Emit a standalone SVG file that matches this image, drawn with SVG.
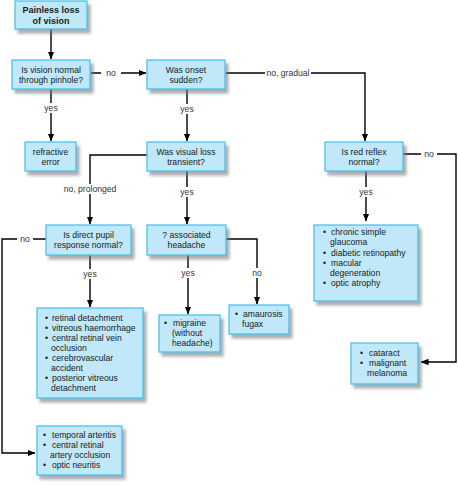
<svg xmlns="http://www.w3.org/2000/svg" width="458" height="485" viewBox="0 0 458 485">
<style>
.box{fill:#c0e8f8;stroke:#3fbfea;stroke-width:1.2}
.t{font-family:"Liberation Sans",Arial,sans-serif;font-size:8.6px;fill:#1a1a1a}
.c{text-anchor:middle}
.b{font-weight:bold;font-size:9px}
.ln{fill:none;stroke:#000;stroke-width:1.4}
.lb{font-family:"Liberation Sans",Arial,sans-serif;font-size:8.6px;fill:#333;text-anchor:middle}
.bg{fill:#fff}
</style>
<defs>
<filter id="sh" x="-20%" y="-20%" width="150%" height="160%">
<feDropShadow dx="3" dy="4" stdDeviation="1.8" flood-color="#777" flood-opacity="0.6"/>
</filter>
<marker id="ah" markerWidth="8" markerHeight="8" refX="7.5" refY="4" orient="auto" markerUnits="userSpaceOnUse">
<path d="M0,0.8 L8,4 L0,7.2 Z" fill="#000"/>
</marker>
</defs>
<rect width="458" height="485" fill="#fff"/>

<g id="connectors">
<path class="ln" d="M51,29 V59" marker-end="url(#ah)"/>
<path class="ln" d="M91,73 H146" marker-end="url(#ah)"/>
<path class="ln" d="M51,89 V141" marker-end="url(#ah)"/>
<path class="ln" d="M187,89 V141" marker-end="url(#ah)"/>
<path class="ln" d="M226,73 H365 V141" marker-end="url(#ah)"/>
<path class="ln" d="M366,171 V221" marker-end="url(#ah)"/>
<path class="ln" d="M403,154 H456 V362 H421" marker-end="url(#ah)"/>
<path class="ln" d="M147,155 H90 V224" marker-end="url(#ah)"/>
<path class="ln" d="M187,171 V224" marker-end="url(#ah)"/>
<path class="ln" d="M46,239 H2 V453 H35" marker-end="url(#ah)"/>
<path class="ln" d="M90,255 V307" marker-end="url(#ah)"/>
<path class="ln" d="M188,255 V314" marker-end="url(#ah)"/>
<path class="ln" d="M226,239 H257 V304" marker-end="url(#ah)"/>

<rect class="bg" x="101" y="68" width="20" height="10"/>
<text class="lb" x="111" y="76">no</text>
<rect class="bg" x="43" y="103" width="16" height="10"/>
<text class="lb" x="51" y="111">yes</text>
<rect class="bg" x="179" y="104" width="16" height="10"/>
<text class="lb" x="187" y="112">yes</text>
<rect class="bg" x="265" y="68" width="46" height="10"/>
<text class="lb" x="288" y="76">no, gradual</text>
<rect class="bg" x="358" y="187" width="16" height="10"/>
<text class="lb" x="366" y="195">yes</text>
<rect class="bg" x="421" y="149" width="16" height="10"/>
<text class="lb" x="429" y="157">no</text>
<rect class="bg" x="64" y="184" width="52" height="10"/>
<text class="lb" x="90" y="192">no, prolonged</text>
<rect class="bg" x="179" y="187" width="16" height="10"/>
<text class="lb" x="187" y="195">yes</text>
<rect class="bg" x="17" y="234" width="16" height="10"/>
<text class="lb" x="25" y="242">no</text>
<rect class="bg" x="82" y="269" width="16" height="10"/>
<text class="lb" x="90" y="277">yes</text>
<rect class="bg" x="180" y="268" width="16" height="10"/>
<text class="lb" x="188" y="276">yes</text>
<rect class="bg" x="249" y="268" width="16" height="10"/>
<text class="lb" x="257" y="276">no</text>
</g>

<g id="start">
<rect class="box" x="15" y="1" width="72" height="28" filter="url(#sh)"/>
<text class="t c b" x="51" y="13">Painless loss</text>
<text class="t c b" x="51" y="24">of vision</text>
</g>

<g id="pinhole">
<rect class="box" x="12" y="60" width="78" height="29" filter="url(#sh)"/>
<text class="t c" x="51" y="73">Is vision normal</text>
<text class="t c" x="51" y="83">through pinhole?</text>
</g>

<g id="sudden">
<rect class="box" x="147" y="60" width="78" height="29" filter="url(#sh)"/>
<text class="t c" x="186" y="73">Was onset</text>
<text class="t c" x="186" y="83">sudden?</text>
</g>

<g id="refractive">
<rect class="box" x="25" y="142" width="51" height="29" filter="url(#sh)"/>
<text class="t c" x="50.5" y="155">refractive</text>
<text class="t c" x="50.5" y="165">error</text>
</g>

<g id="transient">
<rect class="box" x="147" y="142" width="78" height="29" filter="url(#sh)"/>
<text class="t c" x="186" y="155">Was visual loss</text>
<text class="t c" x="186" y="165">transient?</text>
</g>

<g id="redreflex">
<rect class="box" x="325" y="142" width="78" height="29" filter="url(#sh)"/>
<text class="t c" x="364" y="155">Is red reflex</text>
<text class="t c" x="364" y="165">normal?</text>
</g>

<g id="pupil">
<rect class="box" x="46" y="225" width="85" height="30" filter="url(#sh)"/>
<text class="t c" x="88.5" y="238">Is direct pupil</text>
<text class="t c" x="88.5" y="248">response normal?</text>
</g>

<g id="headache">
<rect class="box" x="147" y="225" width="79" height="30" filter="url(#sh)"/>
<text class="t c" x="186.5" y="238">? associated</text>
<text class="t c" x="186.5" y="248">headache</text>
</g>

<g id="glaucoma">
<rect class="box" x="314" y="225" width="104" height="76" filter="url(#sh)"/>
<text class="t" x="323" y="235">•</text><text class="t" x="331" y="235">chronic simple</text>
<text class="t" x="330" y="245">glaucoma</text>
<text class="t" x="323" y="256">•</text><text class="t" x="331" y="256">diabetic retinopathy</text>
<text class="t" x="323" y="266">•</text><text class="t" x="331" y="266">macular</text>
<text class="t" x="330" y="276">degeneration</text>
<text class="t" x="323" y="286">•</text><text class="t" x="331" y="286">optic atrophy</text>
</g>

<g id="amaurosis">
<rect class="box" x="229" y="305" width="60" height="29" filter="url(#sh)"/>
<text class="t" x="235" y="317">•</text><text class="t" x="243" y="317">amaurosis</text>
<text class="t" x="242" y="327">fugax</text>
</g>

<g id="migraine">
<rect class="box" x="159" y="315" width="61" height="37" filter="url(#sh)"/>
<text class="t" x="164" y="326">•</text><text class="t" x="173" y="326">migraine</text>
<text class="t" x="172" y="336">(without</text>
<text class="t" x="172" y="346">headache)</text>
</g>

<g id="retinal">
<rect class="box" x="37" y="308" width="106" height="90" filter="url(#sh)"/>
<text class="t" x="45" y="321">•</text><text class="t" x="52" y="321">retinal detachment</text>
<text class="t" x="45" y="331">•</text><text class="t" x="52" y="331">vitreous haemorrhage</text>
<text class="t" x="45" y="341">•</text><text class="t" x="52" y="341">central retinal vein</text>
<text class="t" x="51" y="351">occlusion</text>
<text class="t" x="45" y="361">•</text><text class="t" x="52" y="361">cerebrovascular</text>
<text class="t" x="51" y="371">accident</text>
<text class="t" x="45" y="381">•</text><text class="t" x="52" y="381">posterior vitreous</text>
<text class="t" x="51" y="391">detachment</text>
</g>

<g id="cataract">
<rect class="box" x="351" y="343" width="67" height="41" filter="url(#sh)"/>
<text class="t" x="360" y="356">•</text><text class="t" x="369" y="356">cataract</text>
<text class="t" x="360" y="366">•</text><text class="t" x="369" y="366">malignant</text>
<text class="t" x="367" y="376">melanoma</text>
</g>

<g id="temporal">
<rect class="box" x="37" y="426" width="85" height="49" filter="url(#sh)"/>
<text class="t" x="43" y="438">•</text><text class="t" x="52" y="438">temporal arteritis</text>
<text class="t" x="43" y="448">•</text><text class="t" x="52" y="448">central retinal</text>
<text class="t" x="50" y="458">artery occlusion</text>
<text class="t" x="43" y="468">•</text><text class="t" x="52" y="468">optic neuritis</text>
</g>
</svg>
